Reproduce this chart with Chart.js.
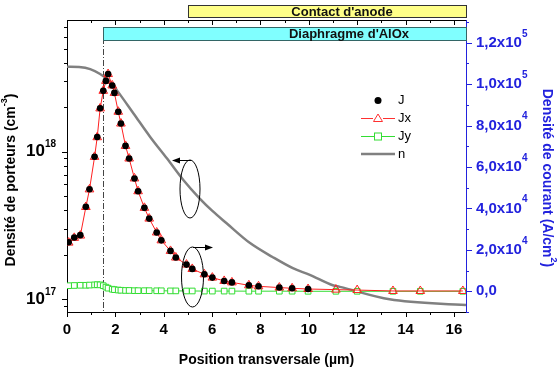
<!DOCTYPE html>
<html>
<head>
<meta charset="utf-8">
<script src="https://cdn.jsdelivr.net/npm/chart.js@4.4.0/dist/chart.umd.min.js"></script>
<style>
  html, body { margin: 0; padding: 0; background: #fff; }
  #wrap { width: 560px; height: 374px; position: relative; }
</style>
</head>
<body>
<div id="wrap"><canvas id="graphe"></canvas></div>
<script>
// positions transversales (µm) des points de courant
const posJ = [0.07, 0.30, 0.55, 0.78, 0.93, 1.14, 1.25, 1.37, 1.50, 1.61, 1.70, 1.87, 1.96, 2.12, 2.23, 2.42, 2.57, 2.79, 2.94, 3.20,
              3.40, 3.71, 3.90, 4.28, 4.50, 4.94, 5.18, 5.68, 6.01, 6.50, 6.82, 7.52, 7.92, 8.78, 9.31, 9.97, 11.12, 12.0, 13.48, 14.61, 16.37];
// densités de courant (A/cm2)
const valJx = [23500, 25800, 26900, 40700, 49200, 64900, 74400, 88300, 96800, 101600, 104900, 99400, 95800, 86700, 81000, 70200, 64100, 54500, 48300, 40300,
               35100, 28400, 24600, 19500, 16300, 12900, 10800, 8200, 6600, 5000, 4300, 2900, 2400, 1800, 1450, 1100, 800, 600, 150, 150, 150];
const valJy = [2700, 2800, 2900, 2900, 3000, 3100, 3200, 3100, 2700, 2000, 1500, 1000, 800, 600, 500, 400, 400, 300, 300, 300,
               300, 250, 250, 200, 200, 150, 150, 100, 100, 100, 100, 50, 50, 50, 50, 0, 0, 0, 0, 0, 0];
const nbJ = 36; // J total tracé jusqu'à ~10 µm
const valJ = [23700, 26000, 27100, 40800, 49300, 65000, 74500, 88400, 96800, 101600, 104900, 99400, 95800, 86700, 81000, 70200, 64100, 54500, 48300, 40300,
              35100, 28400, 24600, 19500, 16300, 12900, 10800, 8200, 6600, 5000, 4300, 2900, 2400, 1800, 1450, 1100];

// densité de porteurs n (cm-3)
const posN = [0, 0.5, 0.96, 1.37, 1.79, 2.06, 2.75, 3.44, 4.13, 4.81, 5.5, 6.0, 6.6, 7.57, 8.5, 9.34, 10.04, 10.99, 11.28, 13.34, 16.5];
const valN = [3.78e18, 3.76e18, 3.64e18, 3.37e18, 2.99e18, 2.62e18, 1.82e18, 1.26e18, 9.02e17, 6.43e17, 4.79e17, 3.98e17, 3.27e17, 2.40e17, 1.93e17, 1.62e17, 1.46e17, 1.24e17, 1.21e17, 9.96e16, 9.1e16];

// graduations
const xMajor = [0, 2, 4, 6, 8, 10, 12, 14, 16];
const xMinor = [1, 3, 5, 7, 9, 11, 13, 15];
const yLeftMajor = [1e17, 1e18];
const yLeftLabels = [['10', '17'], ['10', '18']];
const yLeftMinor = [9e16, 2e17, 3e17, 4e17, 5e17, 6e17, 7e17, 8e17, 9e17, 2e18, 3e18, 4e18, 5e18, 6e18, 7e18];
const yRightMajor = [0, 20000, 40000, 60000, 80000, 100000, 120000];
const yRightLabels = [['0,0', ''], ['2,0x10', '4'], ['4,0x10', '4'], ['6,0x10', '4'], ['8,0x10', '4'], ['1,0x10', '5'], ['1,2x10', '5']];
const yRightMinor = [-10000, 10000, 30000, 50000, 70000, 90000, 110000, 130000];

const BLEU = '#2222dd';
const POLICE = '"Liberation Sans", Arial, sans-serif';

function pts(xs, ys, n) {
  const out = [];
  for (let i = 0; i < (n || xs.length); i++) out.push({x: xs[i], y: ys[i]});
  return out;
}

// texte avec exposant
function texteRiche(ctx, segs, x, y, align) {
  let total = 0;
  segs.forEach(s => { ctx.font = s.font; s.w = ctx.measureText(s.t).width; total += s.w; });
  let cx = align === 'center' ? x - total / 2 : (align === 'right' ? x - total : x);
  ctx.textAlign = 'left';
  ctx.textBaseline = 'middle';
  segs.forEach(s => { ctx.font = s.font; ctx.fillText(s.t, cx, y + (s.dy || 0)); cx += s.w; });
}

const deco = {
  id: 'deco',
  beforeDatasetsDraw(chart) {
    const ctx = chart.ctx, a = chart.chartArea, sx = chart.scales.x;
    // ligne tiret-point à 1,5 µm
    const px = Math.round(sx.getPixelForValue(1.5)) + 0.5;
    ctx.save();
    ctx.strokeStyle = '#444';
    ctx.lineWidth = 1;
    ctx.setLineDash([6, 2, 1, 2]);
    ctx.beginPath();
    ctx.moveTo(px, a.top + 7);
    ctx.lineTo(px, a.bottom);
    ctx.stroke();
    ctx.restore();
  },
  afterDraw(chart) {
    const ctx = chart.ctx, a = chart.chartArea;
    const sx = chart.scales.x, sy = chart.scales.y, sy1 = chart.scales.y1;
    ctx.save();
    ctx.lineWidth = 1;

    // graduations bas / haut
    ctx.strokeStyle = '#000';
    ctx.beginPath();
    xMajor.forEach(v => {
      const p = Math.round(sx.getPixelForValue(v)) + 0.5;
      ctx.moveTo(p, a.bottom); ctx.lineTo(p, a.bottom + 5);
      ctx.moveTo(p, a.top); ctx.lineTo(p, a.top + 5);
    });
    xMinor.forEach(v => {
      const p = Math.round(sx.getPixelForValue(v)) + 0.5;
      ctx.moveTo(p, a.bottom); ctx.lineTo(p, a.bottom + 3);
      ctx.moveTo(p, a.top); ctx.lineTo(p, a.top + 3);
    });
    // graduations gauche (log)
    yLeftMajor.forEach(v => {
      const p = Math.round(sy.getPixelForValue(v)) + 0.5;
      ctx.moveTo(a.left - 5, p); ctx.lineTo(a.left, p);
    });
    yLeftMinor.forEach(v => {
      const p = Math.round(sy.getPixelForValue(v)) + 0.5;
      ctx.moveTo(a.left - 3, p); ctx.lineTo(a.left, p);
    });
    ctx.stroke();

    // graduations droite
    ctx.strokeStyle = BLEU;
    ctx.beginPath();
    yRightMajor.forEach(v => {
      const p = Math.round(sy1.getPixelForValue(v)) + 0.5;
      ctx.moveTo(a.right, p); ctx.lineTo(a.right + 6, p);
    });
    yRightMinor.forEach(v => {
      const p = Math.round(sy1.getPixelForValue(v)) + 0.5;
      ctx.moveTo(a.right, p); ctx.lineTo(a.right + 3, p);
    });
    ctx.stroke();

    // étiquettes axe x
    ctx.fillStyle = '#000';
    ctx.font = 'bold 15px ' + POLICE;
    ctx.textAlign = 'center';
    ctx.textBaseline = 'middle';
    xMajor.forEach(v => ctx.fillText(String(v), sx.getPixelForValue(v), a.bottom + 18));

    // étiquettes axe gauche
    yLeftMajor.forEach((v, i) => {
      texteRiche(ctx, [
        {t: yLeftLabels[i][0], font: 'bold 17px ' + POLICE},
        {t: yLeftLabels[i][1], font: 'bold 10px ' + POLICE, dy: -7}
      ], a.left - 11, sy.getPixelForValue(v), 'right');
    });

    // étiquettes axe droit
    ctx.fillStyle = BLEU;
    yRightMajor.forEach((v, i) => {
      texteRiche(ctx, [
        {t: yRightLabels[i][0], font: 'bold 15px ' + POLICE},
        {t: yRightLabels[i][1], font: 'bold 10px ' + POLICE, dy: -9}
      ], a.right + 10, sy1.getPixelForValue(v), 'left');
    });

    // titres
    ctx.fillStyle = '#000';
    texteRiche(ctx, [{t: 'Position transversale (µm)', font: 'bold 14px ' + POLICE}], (a.left + a.right) / 2, 360, 'center');

    ctx.save();
    ctx.translate(11, 180);
    ctx.rotate(-Math.PI / 2);
    texteRiche(ctx, [
      {t: 'Densité de porteurs (cm', font: 'bold 14px ' + POLICE},
      {t: '-3', font: 'bold 9px ' + POLICE, dy: -6},
      {t: ')', font: 'bold 14px ' + POLICE}
    ], 0, 0, 'center');
    ctx.restore();

    ctx.save();
    ctx.fillStyle = BLEU;
    ctx.translate(547, 178);
    ctx.rotate(Math.PI / 2);
    texteRiche(ctx, [
      {t: 'Densité de courant (A/cm', font: 'bold 14px ' + POLICE},
      {t: '2', font: 'bold 9px ' + POLICE, dy: -6},
      {t: ')', font: 'bold 14px ' + POLICE}
    ], 0, 0, 'center');
    ctx.restore();

    // bandeaux
    const x5 = sx.getPixelForValue(5), x15 = sx.getPixelForValue(1.5);
    ctx.fillStyle = '#ffff88';
    ctx.strokeStyle = '#333';
    ctx.fillRect(x5, 6, a.right - x5, 11);
    ctx.strokeRect(Math.round(x5) + 0.5, 5.5, a.right - Math.round(x5), 12);
    ctx.fillStyle = '#80ffff';
    ctx.strokeStyle = '#336666';
    ctx.fillRect(x15, 27, a.right - x15, 13);
    ctx.strokeRect(Math.round(x15) + 0.5, 27.5, a.right - Math.round(x15), 13);
    ctx.fillStyle = '#111';
    texteRiche(ctx, [{t: "Contact d'anode", font: 'bold 13px ' + POLICE}], 342, 12, 'center');
    texteRiche(ctx, [{t: "Diaphragme d'AlOx", font: 'bold 13px ' + POLICE}], 349, 34, 'center');

    // ellipses et flèches
    ctx.strokeStyle = '#000';
    ctx.lineWidth = 1;
    ctx.beginPath(); ctx.ellipse(190, 189, 10, 29, 0, 0, 2 * Math.PI); ctx.stroke();
    ctx.beginPath(); ctx.ellipse(192.5, 277, 11, 30, 0, 0, 2 * Math.PI); ctx.stroke();
    ctx.beginPath();
    ctx.moveTo(191, 160.5); ctx.lineTo(178, 160.5);
    ctx.moveTo(193, 247.5); ctx.lineTo(206, 247.5);
    ctx.stroke();
    ctx.fillStyle = '#000';
    ctx.beginPath(); ctx.moveTo(172, 160.5); ctx.lineTo(180, 157.5); ctx.lineTo(180, 163.5); ctx.closePath(); ctx.fill();
    ctx.beginPath(); ctx.moveTo(213, 247.5); ctx.lineTo(205, 244.5); ctx.lineTo(205, 250.5); ctx.closePath(); ctx.fill();

    // légende
    const lx0 = 361, lx1 = 395, lxm = 378, tx = 398;
    ctx.font = '13px ' + POLICE;
    ctx.textAlign = 'left';
    ctx.textBaseline = 'middle';
    ctx.fillStyle = '#000';
    ctx.beginPath(); ctx.arc(lxm, 100.5, 3.5, 0, 2 * Math.PI); ctx.fill();
    ctx.fillText('J', tx, 100);
    ctx.strokeStyle = '#ff3030';
    ctx.beginPath(); ctx.moveTo(lx0, 118.5); ctx.lineTo(lxm - 5, 118.5); ctx.moveTo(lxm + 5, 118.5); ctx.lineTo(lx1, 118.5); ctx.stroke();
    ctx.beginPath(); ctx.moveTo(lxm, 114); ctx.lineTo(lxm + 4.5, 121.5); ctx.lineTo(lxm - 4.5, 121.5); ctx.closePath(); ctx.stroke();
    ctx.fillText('Jx', tx, 118);
    ctx.strokeStyle = '#33dd33';
    ctx.beginPath(); ctx.moveTo(lx0, 136.5); ctx.lineTo(lxm - 4, 136.5); ctx.moveTo(lxm + 4, 136.5); ctx.lineTo(lx1, 136.5); ctx.stroke();
    ctx.strokeRect(lxm - 3.5, 133, 7, 7);
    ctx.fillText('Jy', tx, 136);
    ctx.strokeStyle = '#808080';
    ctx.lineWidth = 2.5;
    ctx.beginPath(); ctx.moveTo(lx0, 154); ctx.lineTo(lx1, 154); ctx.stroke();
    ctx.fillText('n', tx, 154);

    ctx.restore();
  }
};

new Chart('graphe', {
  type: 'line',
  data: {
    datasets: [
      {
        label: 'J', data: pts(posJ, valJ, nbJ), yAxisID: 'y1', order: 0,
        showLine: false, pointStyle: 'circle', pointRadius: 3.3,
        pointBackgroundColor: '#000', pointBorderColor: '#000', pointBorderWidth: 0
      },
      {
        label: 'Jx', data: pts(posJ, valJx), yAxisID: 'y1', order: 1,
        borderColor: '#ff2020', borderWidth: 1, tension: 0,
        pointStyle: 'triangle', pointRadius: 5, pointBorderWidth: 1,
        pointBorderColor: '#ff2020', pointBackgroundColor: 'rgba(255,255,255,0)'
      },
      {
        label: 'Jy', data: pts(posJ, valJy), yAxisID: 'y1', order: 2,
        borderColor: '#33dd33', borderWidth: 1, tension: 0,
        pointStyle: 'rect', pointRadius: 4, pointBorderWidth: 1,
        pointBorderColor: '#33dd33', pointBackgroundColor: '#fff'
      },
      {
        label: 'n', data: pts(posN, valN), yAxisID: 'y', order: 3,
        borderColor: '#808080', borderWidth: 2.5, pointRadius: 0,
        cubicInterpolationMode: 'monotone'
      }
    ]
  },
  options: {
    responsive: true,
    maintainAspectRatio: false,
    animation: false,
    devicePixelRatio: 1,
    layout: { padding: { left: 67, right: 94, top: 20, bottom: 62 } },
    plugins: { legend: { display: false }, tooltip: { enabled: false } },
    scales: {
      x: {
        type: 'linear', position: 'bottom', min: 0, max: 16.5,
        grid: { display: false, drawTicks: false },
        ticks: { display: false },
        border: { display: true, color: '#000', width: 1 }
      },
      x2: {
        type: 'linear', position: 'top', min: 0, max: 16.5,
        grid: { display: false, drawTicks: false },
        ticks: { display: false },
        border: { display: true, color: '#000', width: 1 }
      },
      y: {
        type: 'logarithmic', position: 'left', min: 8.17e16, max: 7.84e18,
        grid: { display: false, drawTicks: false },
        ticks: { display: false },
        border: { display: true, color: '#000', width: 1 }
      },
      y1: {
        type: 'linear', position: 'right', min: -10000, max: 131000,
        grid: { display: false, drawTicks: false },
        ticks: { display: false },
        border: { display: true, color: BLEU, width: 1 }
      }
    }
  },
  plugins: [deco]
});
</script>
</body>
</html>
